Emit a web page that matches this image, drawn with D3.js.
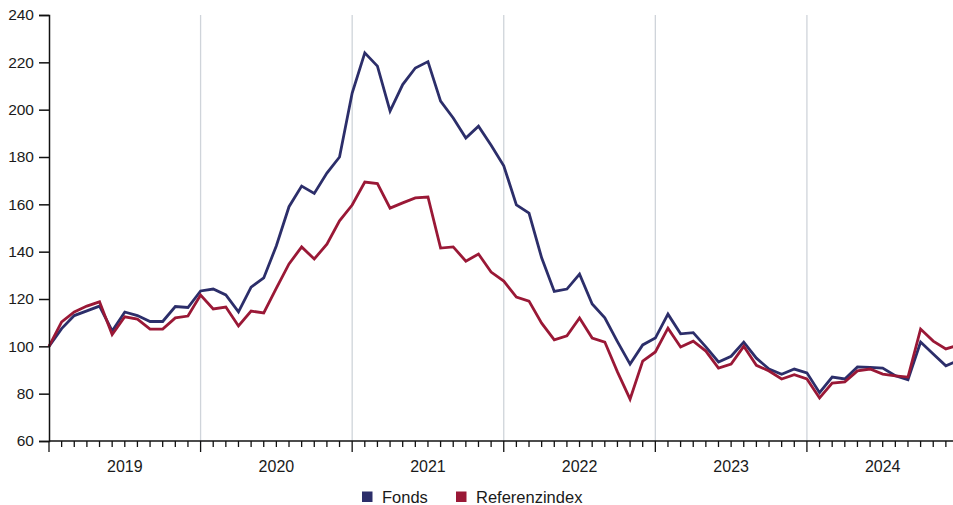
<!DOCTYPE html>
<html>
<head>
<meta charset="utf-8">
<script src="https://cdn.jsdelivr.net/npm/d3@7/dist/d3.min.js"></script>
<style>
  html, body { margin: 0; padding: 0; background: #fff; overflow: hidden; }
  svg { display: block; }
  text { font-family: "Liberation Sans", Arial, Helvetica, sans-serif; fill: #1a1a1a; }
</style>
</head>
<body>
<svg id="chart" width="953" height="505"></svg>
<script>
// ---- Data (monthly index values, start = 100) ----
const years = ["2019", "2020", "2021", "2022", "2023", "2024"];
const yTicks = [60, 80, 100, 120, 140, 160, 180, 200, 220, 240];
const seriesNames = ["Fonds", "Referenzindex"];

const fonds = [
  100, 107.5, 113, 115, 117, 106.5, 114.5, 113, 110.5, 110.5, 116.8, 116.4,
  123.4, 124.2, 121.7, 114.6, 125, 128.9, 142.5, 159, 167.7, 164.6, 173.2, 180,
  207, 224, 218.4, 199.4, 210.6, 217.6, 220.3, 203.6, 196.5, 188, 193, 185,
  176.3, 159.8, 156.3, 137.4, 123.2, 124.2, 130.5, 117.9, 112, 102, 92.5, 100.6,
  103.5, 113.6, 105.3, 105.8, 99.8, 93.4, 95.8, 101.8, 95, 90.4, 88.2, 90.4,
  88.8, 80.4, 87, 86.2, 91.3, 91.1, 90.8, 87.6, 85.9, 101.8, 96.8, 91.8, 94
];
const referenzindex = [
  100, 110.3, 114.5, 117, 118.8, 105, 112.5, 111.5, 107.3, 107.3, 112, 112.8,
  121.7, 115.8, 116.6, 108.6, 114.9, 114.1, 124.6, 134.8, 142, 136.9, 143.2, 153,
  159.7, 169.4, 168.8, 158.4, 160.6, 162.7, 163.1, 141.5, 142, 136, 139, 131.4,
  127.6, 120.8, 119.1, 109.8, 102.7, 104.4, 112, 103.5, 101.8, 89.2, 77.7, 93.8,
  97.6, 107.7, 99.7, 102.2, 98, 90.8, 92.5, 100, 92, 89.6, 86.2, 88,
  86.2, 78.2, 84.5, 85, 89.6, 90.4, 88.3, 87.5, 87, 107.3, 102.2, 98.9, 100.6
];
const colors = ["#2c2e6a", "#9a1836"];

// ---- Layout ----
const svg = d3.select("#chart");
const mLeft = 49, mTop = 15, mBottom = 441;
const monthsTotal = years.length * 12;
const x = d3.scaleLinear().domain([0, monthsTotal]).range([mLeft, 958.5]);
const y = d3.scaleLinear().domain([60, 240]).range([mBottom, mTop]);

// Vertical year gridlines
const yearIdx = d3.range(1, years.length).map(i => i * 12);
svg.append("g").selectAll("line").data(yearIdx).join("line")
  .attr("x1", d => x(d)).attr("x2", d => x(d))
  .attr("y1", mTop).attr("y2", mBottom)
  .attr("stroke", "#cfd4da").attr("stroke-width", 1.3);

// Lines
const line = d3.line().x((d, i) => x(i)).y(d => y(d)).curve(d3.curveLinear);
[fonds, referenzindex].forEach((s, k) => {
  svg.append("path").datum(s)
    .attr("d", line)
    .attr("fill", "none")
    .attr("stroke", colors[k])
    .attr("stroke-width", 2.8)
    .attr("stroke-linejoin", "miter")
    .attr("stroke-linecap", "butt");
});

// Y axis
const yAxis = d3.axisLeft(y).tickValues(yTicks).tickSize(10).tickPadding(5);
const gy = svg.append("g").attr("transform", `translate(${mLeft},0)`).call(yAxis);
gy.select(".domain").attr("stroke", "#111").attr("stroke-width", 1.5);
gy.selectAll(".tick line").attr("stroke", "#111").attr("stroke-width", 1.5);
gy.selectAll(".tick text").style("font-size", "15.5px").attr("fill", "#1a1a1a")
  .style("font-family", "'Liberation Sans', Arial, sans-serif");

// X axis: month ticks + longer year ticks
const gx = svg.append("g");
gx.append("line").attr("x1", mLeft).attr("x2", 953).attr("y1", mBottom).attr("y2", mBottom)
  .attr("stroke", "#111").attr("stroke-width", 1.5);
const monthTicks = d3.range(0, monthsTotal + 1);
gx.selectAll("line.tk").data(monthTicks).join("line").attr("class", "tk")
  .attr("x1", d => x(d)).attr("x2", d => x(d))
  .attr("y1", mBottom).attr("y2", d => d % 12 === 0 ? mBottom + 11 : mBottom + 6)
  .attr("stroke", "#111").attr("stroke-width", 1.3);
gx.selectAll("text").data(years).join("text")
  .attr("x", (d, i) => x(i * 12 + 6))
  .attr("y", 472)
  .attr("text-anchor", "middle")
  .style("font-size", "16px")
  .text(d => d);

// Legend
const legend = svg.append("g");
const legendItems = [
  { name: seriesNames[0], color: colors[0], x: 362 },
  { name: seriesNames[1], color: colors[1], x: 456 }
];
legendItems.forEach(it => {
  legend.append("rect").attr("x", it.x).attr("y", 491.5).attr("width", 10.5).attr("height", 10.5)
    .attr("fill", it.color);
  legend.append("text").attr("x", it.x + 20).attr("y", 502.5)
    .style("font-size", "16.5px").text(it.name);
});
</script>
</body>
</html>
